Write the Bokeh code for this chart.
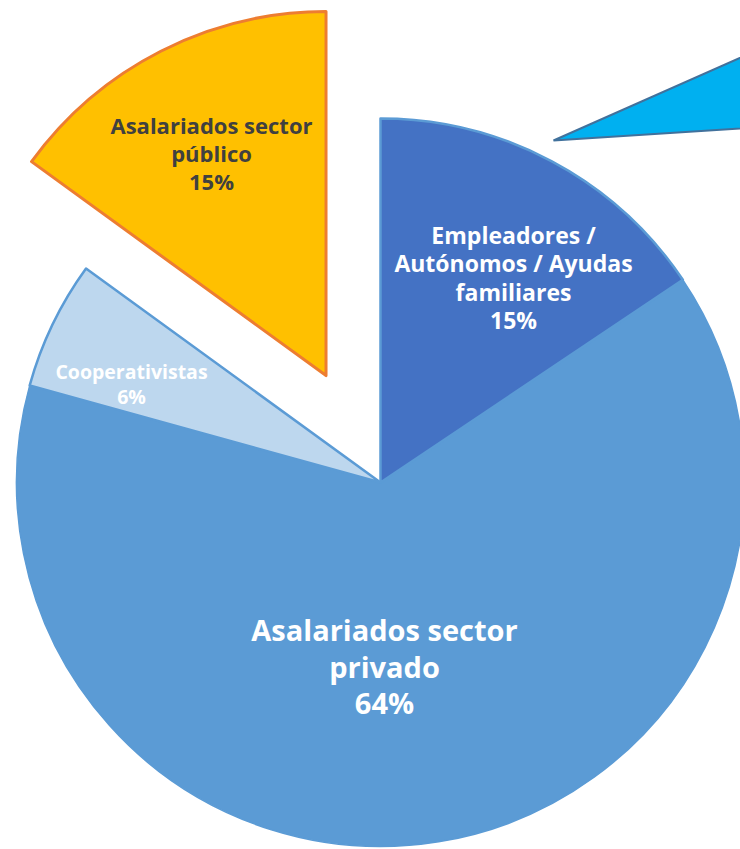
import math
from bokeh.plotting import figure
from bokeh.models import Range1d
from bokeh.embed import file_html
from bokeh.resources import INLINE
from bokeh.core.properties import value

# ---- data ----
categories = ["Empleadores / Autónomos / Ayudas familiares",
              "Asalariados sector privado",
              "Cooperativistas",
              "Asalariados sector público"]
shares = [15.6, 63.7, 5.7, 15.0]
pct_labels = ["15%", "64%", "6%", "15%"]
label_lines = [["Empleadores /", "Autónomos / Ayudas", "familiares"],
               ["Asalariados sector", "privado"],
               ["Cooperativistas"],
               ["Asalariados sector", "público"]]
explode = [0, 0, 0, 120]

# ---- style ----
fill_colors = ["#4472C4", "#5B9BD5", "#BDD7EE", "#FFC000"]
line_colors = ["#5B9BD5", "#5B9BD5", "#5B9BD5", "#ED7D31"]
line_widths = [2.5, 1.5, 2.5, 3]
text_colors = ["white", "white", "white", "#404040"]
font_sizes = [23, 29, 19.5, 22]
line_gaps = [28.5, 36.5, 25, 28]
label_pos = [(513, 234), (384, 629), (131, 371), (211, 124)]  # first-line centre, page px

W, H = 740, 849
CX, CY, R = 380, H - 482, 364

p = figure(width=W, height=H, x_range=Range1d(0, W), y_range=Range1d(0, H),
           output_backend="svg", toolbar_location=None, min_border=0)
p.axis.visible = False
p.grid.visible = False
p.outline_line_color = None
p.background_fill_color = "white"

total = sum(shares)
cur = 90.0
geo = []
for s in shares:
    span = s / total * 360.0
    end = cur
    start = cur - span
    geo.append((start, end, (start + end) / 2))
    cur = start

for i in [1, 0, 2, 3]:
    start, end, mid = geo[i]
    ox = explode[i] * math.cos(math.radians(mid))
    oy = explode[i] * math.sin(math.radians(mid))
    p.wedge(x=CX + ox, y=CY + oy, radius=R,
            start_angle=math.radians(start), end_angle=math.radians(end),
            fill_color=fill_colors[i], line_color=line_colors[i],
            line_width=line_widths[i], line_join="round")

# detached cyan wedge (partial element at top right)
p.wedge(x=553, y=H - 140, radius=260, start_angle=math.radians(3.7), end_angle=math.radians(23.9),
        fill_color="#00B0F0", line_color="#41719C", line_width=2)

for i in range(4):
    lines = label_lines[i] + [pct_labels[i]]
    x0, y0 = label_pos[i]
    xs = [x0] * len(lines)
    ys = [H - (y0 + k * line_gaps[i]) for k in range(len(lines))]
    p.text(x=xs, y=ys, text=lines, text_font=value("Open Sans"), text_font_style="bold",
           text_font_size=f"{font_sizes[i]}px", text_color=text_colors[i],
           text_align="center", text_baseline="middle")

open("out.html", "w").write(file_html(p, INLINE))
